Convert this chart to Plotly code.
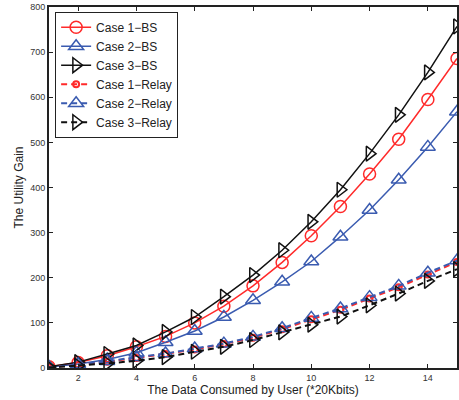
import plotly.graph_objects as go

x = list(range(1, 16))
case1_bs = [3, 12, 27, 47, 70, 100, 137, 182, 234, 293, 358, 430, 507, 595, 686]
case2_bs = [2, 9, 19, 34, 57, 82, 113, 150, 191, 236, 291, 350, 417, 490, 568]
case3_bs = [3, 13, 31, 50, 80, 113, 158, 206, 261, 324, 395, 475, 561, 655, 757]
case1_relay = [1, 7, 14, 22, 31, 41, 53, 67, 86, 108, 129, 154, 179, 207, 235]
case2_relay = [1, 8, 15, 24, 32, 43, 54, 69, 88, 111, 132, 157, 182, 211, 238]
case3_relay = [1, 5, 10, 16, 24, 36, 47, 62, 79, 96, 114, 139, 165, 193, 219]

RED = "#FF2A2A"
BLUE = "#3A5BB0"
BLACK = "#111111"
DASH = "6px,4px"

fig = go.Figure()
fig.add_trace(go.Scatter(x=x, y=case1_bs, name="Case 1\u2212BS", mode="lines+markers",
                         line=dict(color=RED, width=1.5),
                         marker=dict(symbol="circle-open", size=12, color=RED, line=dict(width=1.5))))
fig.add_trace(go.Scatter(x=x, y=case2_bs, name="Case 2\u2212BS", mode="lines+markers",
                         line=dict(color=BLUE, width=1.5),
                         marker=dict(symbol="triangle-up-open", size=13, color=BLUE, line=dict(width=1.5))))
fig.add_trace(go.Scatter(x=x, y=case3_bs, name="Case 3\u2212BS", mode="lines+markers",
                         line=dict(color=BLACK, width=1.5),
                         marker=dict(symbol="triangle-right-open", size=13, color=BLACK, line=dict(width=1.5))))
fig.add_trace(go.Scatter(x=x, y=case1_relay, name="Case 1\u2212Relay", mode="lines+markers",
                         line=dict(color=RED, width=2, dash=DASH),
                         marker=dict(symbol="circle-open", size=6, color=RED, line=dict(width=2))))
fig.add_trace(go.Scatter(x=x, y=case2_relay, name="Case 2\u2212Relay", mode="lines+markers",
                         line=dict(color=BLUE, width=2, dash=DASH),
                         marker=dict(symbol="triangle-up-open", size=13, color=BLUE, line=dict(width=1.5))))
fig.add_trace(go.Scatter(x=x, y=case3_relay, name="Case 3\u2212Relay", mode="lines+markers",
                         line=dict(color=BLACK, width=2, dash=DASH),
                         marker=dict(symbol="triangle-right-open", size=13, color=BLACK, line=dict(width=1.5))))

axis_common = dict(showline=True, linecolor="#222222", linewidth=2, mirror="ticks",
                   ticks="inside", ticklen=4, tickcolor="#222222", showgrid=False, zeroline=False,
                   tickfont=dict(family="Liberation Sans, Arial, sans-serif", size=9, color="#333333"))

fig.update_layout(
    width=459, height=400,
    margin=dict(l=49, r=0, t=7, b=32),
    paper_bgcolor="white", plot_bgcolor="white",
    font=dict(family="Liberation Sans, Arial, sans-serif", size=12, color="#222222"),
    xaxis=dict(range=[1, 15], tickvals=[2, 4, 6, 8, 10, 12, 14],
               title=dict(text="The Data Consumed by User (*20Kbits)", standoff=0,
                          font=dict(size=12)), **axis_common),
    yaxis=dict(range=[0, 800], tickvals=[0, 100, 200, 300, 400, 500, 600, 700, 800],
               title=dict(text="The Utility Gain", standoff=4, font=dict(size=12)), **axis_common),
    legend=dict(x=0.015, y=0.987, xanchor="left", yanchor="top",
                bgcolor="white", bordercolor="#222222", borderwidth=1,
                font=dict(size=12), tracegroupgap=0, itemwidth=30),
    showlegend=True,
)

fig.write_html("out.html", config={"displayModeBar": False},
               post_script="document.body.style.margin='0';document.body.style.overflow='hidden';")
